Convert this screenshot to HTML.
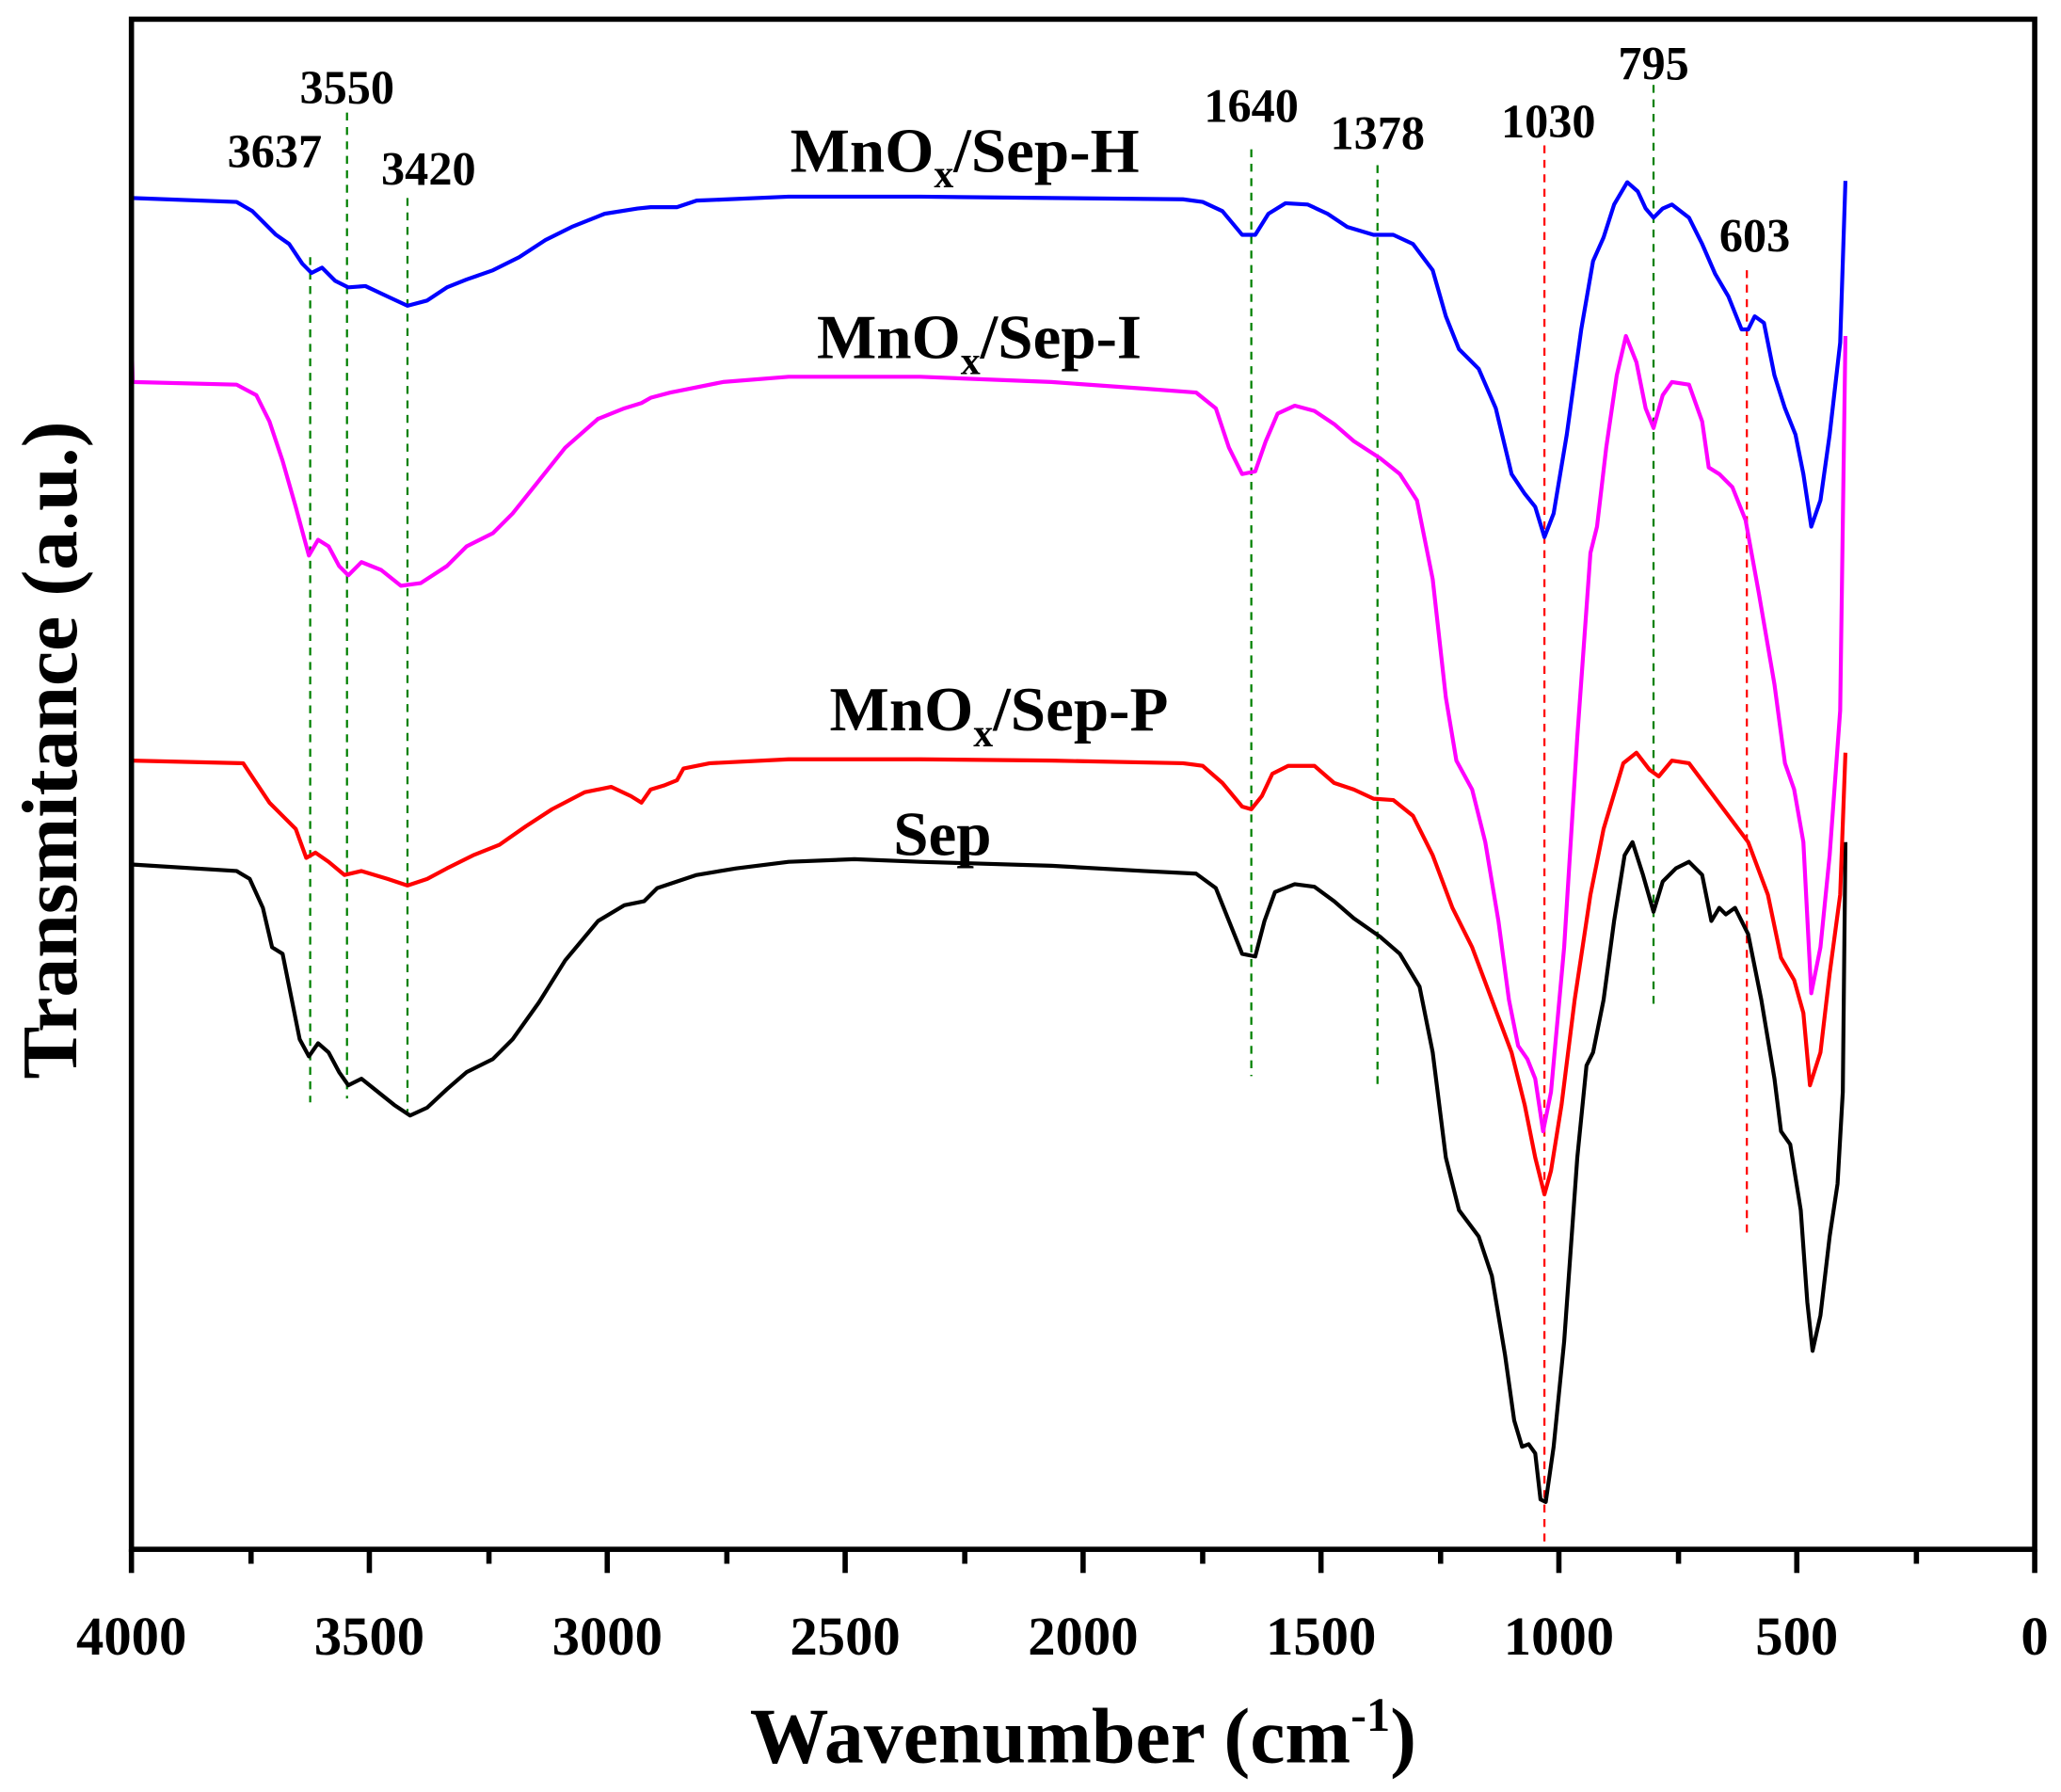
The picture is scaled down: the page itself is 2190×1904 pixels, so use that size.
<!DOCTYPE html>
<html><head><meta charset="utf-8"><style>
html,body{margin:0;padding:0;background:#fff;}
svg{display:block;}
text{font-family:"Liberation Serif",serif;font-weight:bold;fill:#000;}
</style></head><body>
<svg width="2190" height="1904" viewBox="0 0 1568 1362" xmlns="http://www.w3.org/2000/svg">
<g fill="none" stroke-width="1.6" stroke-dasharray="6,5">
<line x1="236" y1="195" x2="236" y2="838" stroke="#008000"/>
<line x1="264" y1="85" x2="264" y2="835" stroke="#008000"/>
<line x1="310" y1="150" x2="310" y2="845" stroke="#008000"/>
<line x1="952" y1="113" x2="952" y2="818" stroke="#008000"/>
<line x1="1048" y1="125" x2="1048" y2="826" stroke="#008000"/>
<line x1="1258" y1="64" x2="1258" y2="766" stroke="#008000"/>
<line x1="1175" y1="110" x2="1175" y2="1172" stroke="#ff0000"/>
<line x1="1329" y1="205" x2="1329" y2="940" stroke="#ff0000"/>
</g>
<g fill="none" stroke-width="3" stroke-linejoin="round">
<polyline stroke="#000" points="100,657 180,662 190,668 200,690 207,720 215,725 222,760 228,790 235,803 242,793 250,800 258,815 265,825 275,820 285,828 300,840 312,848 325,842 340,828 355,815 375,805 390,790 410,762 430,730 455,700 475,688 490,685 500,675 515,670 530,665 560,660 600,655 650,653 700,655 800,658 870,662 910,664 925,675 935,700 945,725 955,727 962,700 970,678 985,672 1000,674 1015,685 1030,698 1050,712 1065,725 1080,750 1090,800 1100,880 1110,920 1125,940 1135,970 1145,1030 1152,1080 1158,1100 1163,1098 1168,1105 1172,1140 1176,1142 1182,1100 1190,1020 1200,880 1207,810 1212,800 1220,760 1228,700 1236,650 1242,640 1250,665 1258,693 1265,670 1275,660 1285,655 1295,665 1302,700 1308,690 1313,695 1320,690 1330,710 1340,760 1350,820 1355,860 1362,870 1370,920 1375,990 1379,1027 1385,1000 1392,940 1398,900 1402,830 1404,640"/>
<polyline stroke="#ff0000" points="100,578 185,580 195,595 205,610 215,620 225,630 233,652 240,648 250,655 262,665 275,662 295,668 310,673 325,668 340,660 360,650 380,642 400,628 420,615 445,602 465,598 480,605 488,610 495,600 505,597 515,593 520,584 540,580 600,577 700,577 800,578 900,580 915,582 930,595 945,613 952,615 960,605 968,588 980,582 1000,582 1015,595 1030,600 1045,607 1060,608 1075,620 1090,650 1105,690 1120,720 1135,760 1150,800 1160,840 1168,880 1175,908 1180,890 1188,840 1198,760 1210,680 1220,630 1235,580 1245,572 1255,585 1262,590 1272,578 1285,580 1300,600 1315,620 1330,640 1345,680 1355,728 1365,745 1372,770 1377,825 1385,800 1392,740 1400,680 1404,572"/>
<polyline stroke="#ff00ff" points="100,255 101,290 180,292 195,300 205,320 215,350 225,385 235,422 242,410 250,415 258,430 265,437 275,427 290,433 305,445 320,443 340,430 355,415 375,405 390,390 410,365 430,340 455,318 475,310 488,306 495,302 510,298 520,296 550,290 600,286 700,286 800,290 870,295 910,298 925,310 935,340 945,360 955,358 963,335 972,314 985,308 1000,312 1015,322 1030,335 1050,348 1065,360 1078,380 1090,440 1100,530 1108,578 1120,600 1130,640 1140,700 1148,760 1155,795 1162,805 1168,820 1174,860 1180,830 1190,720 1200,560 1210,420 1215,400 1222,340 1230,285 1237,255 1245,275 1252,310 1258,325 1265,300 1272,290 1285,292 1295,320 1300,355 1308,360 1318,370 1328,395 1338,450 1350,520 1358,580 1365,600 1372,640 1378,755 1385,720 1392,650 1400,540 1404,255"/>
<polyline stroke="#0000ff" points="100,150 180,153 192,160 200,168 210,178 220,185 230,200 237,207 245,203 255,213 265,218 278,217 295,225 310,232 325,228 340,218 355,212 375,205 395,195 415,182 435,172 460,162 485,158 495,157 515,157 530,152 600,149 700,149 800,150 900,151 915,153 930,160 945,178 955,178 965,162 978,154 995,155 1010,162 1025,172 1045,178 1060,178 1075,185 1090,205 1100,240 1110,265 1125,280 1138,310 1150,360 1160,375 1168,385 1175,408 1182,390 1192,330 1203,250 1212,198 1220,180 1228,155 1238,138 1246,145 1252,158 1258,165 1265,158 1272,155 1285,165 1295,185 1305,208 1315,225 1325,250 1330,250 1335,240 1342,245 1350,285 1358,310 1366,330 1372,360 1378,400 1385,380 1392,330 1400,260 1404,137"/>
</g>
<rect x="100" y="14" width="1448" height="1164" fill="none" stroke="#000" stroke-width="4"/>
<g stroke="#000" stroke-width="4">
<line x1="100" y1="1178" x2="100" y2="1196"/>
<line x1="191" y1="1178" x2="191" y2="1189"/>
<line x1="281" y1="1178" x2="281" y2="1196"/>
<line x1="372" y1="1178" x2="372" y2="1189"/>
<line x1="462" y1="1178" x2="462" y2="1196"/>
<line x1="553" y1="1178" x2="553" y2="1189"/>
<line x1="643" y1="1178" x2="643" y2="1196"/>
<line x1="734" y1="1178" x2="734" y2="1189"/>
<line x1="824" y1="1178" x2="824" y2="1196"/>
<line x1="915" y1="1178" x2="915" y2="1189"/>
<line x1="1005" y1="1178" x2="1005" y2="1196"/>
<line x1="1096" y1="1178" x2="1096" y2="1189"/>
<line x1="1186" y1="1178" x2="1186" y2="1196"/>
<line x1="1277" y1="1178" x2="1277" y2="1189"/>
<line x1="1367" y1="1178" x2="1367" y2="1196"/>
<line x1="1458" y1="1178" x2="1458" y2="1189"/>
<line x1="1548" y1="1178" x2="1548" y2="1196"/>
</g>
<g font-size="42" text-anchor="middle">
<text x="100" y="1258">4000</text>
<text x="281" y="1258">3500</text>
<text x="462" y="1258">3000</text>
<text x="643" y="1258">2500</text>
<text x="824" y="1258">2000</text>
<text x="1005" y="1258">1500</text>
<text x="1186" y="1258">1000</text>
<text x="1367" y="1258">500</text>
<text x="1548" y="1258">0</text>
</g>
<text x="824" y="1340" font-size="60" text-anchor="middle">Wavenumber (cm<tspan font-size="36" dy="-24">-1</tspan><tspan dy="24">)</tspan></text>
<text transform="translate(58 570) rotate(-90)" font-size="60" text-anchor="middle">Transmitance (a.u.)</text>
<g font-size="36" text-anchor="middle">
<text x="209" y="127">3637</text>
<text x="264" y="78">3550</text>
<text x="326" y="140">3420</text>
<text x="952" y="92">1640</text>
<text x="1048" y="113">1378</text>
<text x="1178" y="104">1030</text>
<text x="1258" y="60">795</text>
<text x="1335" y="191">603</text>
</g>
<g font-size="48" text-anchor="middle">
<text x="734" y="130">MnO<tspan font-size="30" dy="12">x</tspan><tspan dy="-12">/Sep-H</tspan></text>
<text x="745" y="272">MnO<tspan font-size="30" dy="12">x</tspan><tspan dy="-12">/Sep-I</tspan></text>
<text x="760" y="555">MnO<tspan font-size="30" dy="12">x</tspan><tspan dy="-12">/Sep-P</tspan></text>
<text x="717" y="650">Sep</text>
</g>
</svg>
</body></html>
